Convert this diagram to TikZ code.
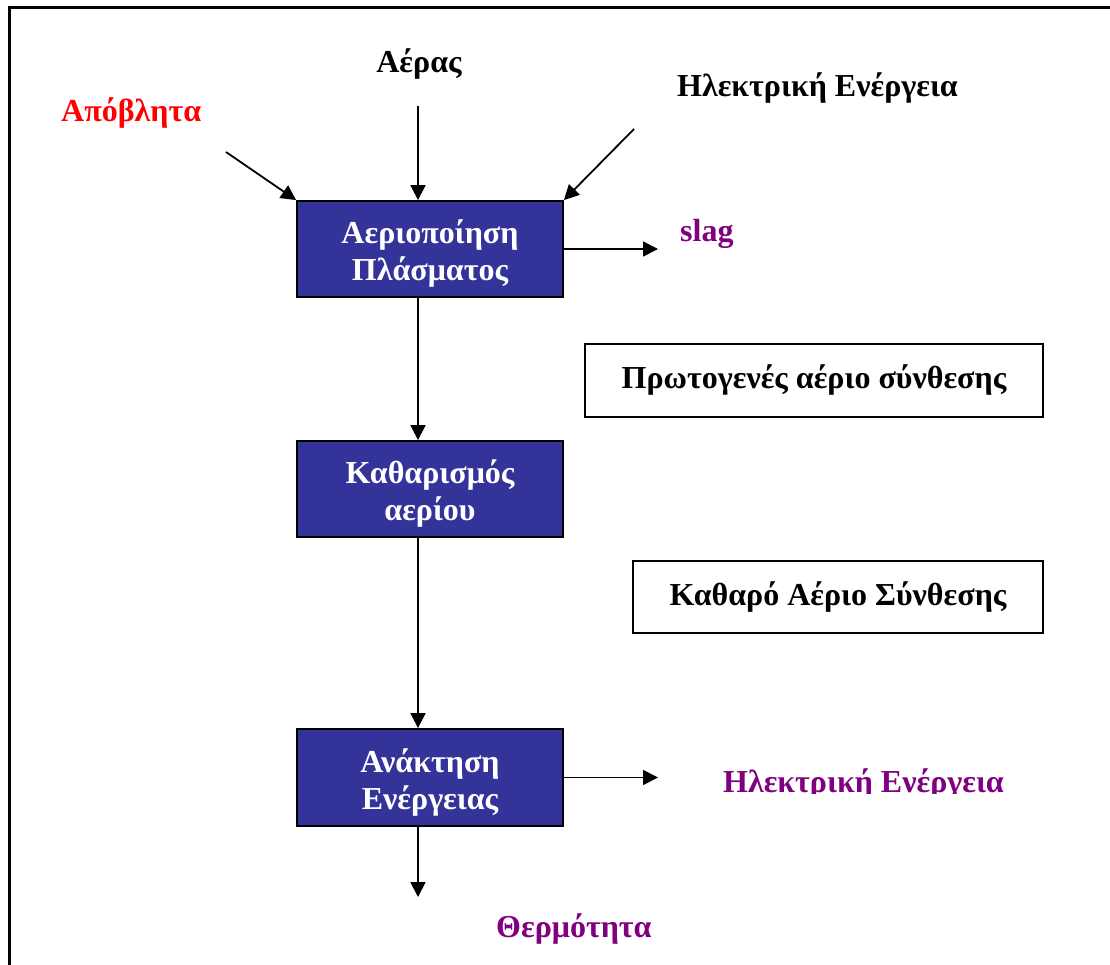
\documentclass[tikz,border=0pt]{standalone}
\usepackage{fontspec}
\setmainfont{Liberation Serif}
\usetikzlibrary{arrows.meta}
\definecolor{boxblue}{HTML}{333399}
\definecolor{purp}{HTML}{800080}
\newcommand{\topstrut}{\rule{0pt}{33pt}}
\begin{document}
\begin{tikzpicture}[x=1pt,y=-1pt,
  txt/.style={font=\fontsize{32}{37}\selectfont\bfseries},
  proc/.style={txt, draw=black, line width=1.8pt, fill=boxblue, text=white,
    minimum width=266pt, minimum height=96pt, align=center, inner sep=0pt},
  outbox/.style={txt, draw=black, line width=1.8pt, fill=white, inner sep=0pt},
  lbl/.style={txt, inner sep=0pt, anchor=base west},
  arr/.style={line width=1.8pt, -{Triangle[length=15pt,width=15pt]}}]
\useasboundingbox (0,0) rectangle (1110,965);
\fill[white] (0,0) rectangle (1110,965);
\draw[line width=3pt] (9,975) -- (9,8) -- (1120,8);

% process boxes
\node[proc] (p1) at (430,249) {\topstrut Αεριοποίηση\\Πλάσματος};
\node[proc] (p2) at (430,489) {\topstrut Καθαρισμός\\αερίου};
\node[proc, minimum height=97pt] (p3) at (430,777.5) {\topstrut Ανάκτηση\\Ενέργειας};

% gas boxes
\node[outbox, minimum width=458pt, minimum height=73pt] (g1) at (814,380.5) {Πρωτογενές αέριο σύνθεσης};
\node[outbox, minimum width=410pt, minimum height=72pt] (g2) at (838,597) {Καθαρό Αέριο Σύνθεσης};

% labels
\node[lbl, text=red] (waste) at (61,122) {Απόβλητα};
\node[txt, inner sep=0pt, anchor=base] (air) at (419,73) {Αέρας};
\node[lbl] (elin) at (677,97) {Ηλεκτρική Ενέργεια};
\node[lbl, text=purp] (slag) at (680,242) {slag};
\node[lbl, text=purp] (heat) at (496,937) {Θερμότητα};
\begin{scope}
  \clip (600,740) rectangle (1110,793);
  \node[lbl, text=purp] (elout) at (723,792) {Ηλεκτρική Ενέργεια};
\end{scope}

% connector end points
\coordinate (ax) at (418,0);
\coordinate (airstart) at (418,106);
\coordinate (wstart) at (226,152);
\coordinate (estart) at (634,129);
\coordinate (slagend) at (658,249);
\coordinate (elend) at (658,777.5);
\coordinate (heatend) at (418,897);

% connectors
\draw[arr] (airstart) -- (ax |- p1.north);
\draw[arr] (wstart) -- (p1.north west);
\draw[arr] (estart) -- (p1.north east);
\draw[arr] (p1.east) -- (slagend);
\draw[arr] (ax |- p1.south) -- (ax |- p2.north);
\draw[arr] (ax |- p2.south) -- (ax |- p3.north);
\draw[arr] (p3.east) -- (elend);
\draw[arr] (ax |- p3.south) -- (heatend);
\end{tikzpicture}
\end{document}
